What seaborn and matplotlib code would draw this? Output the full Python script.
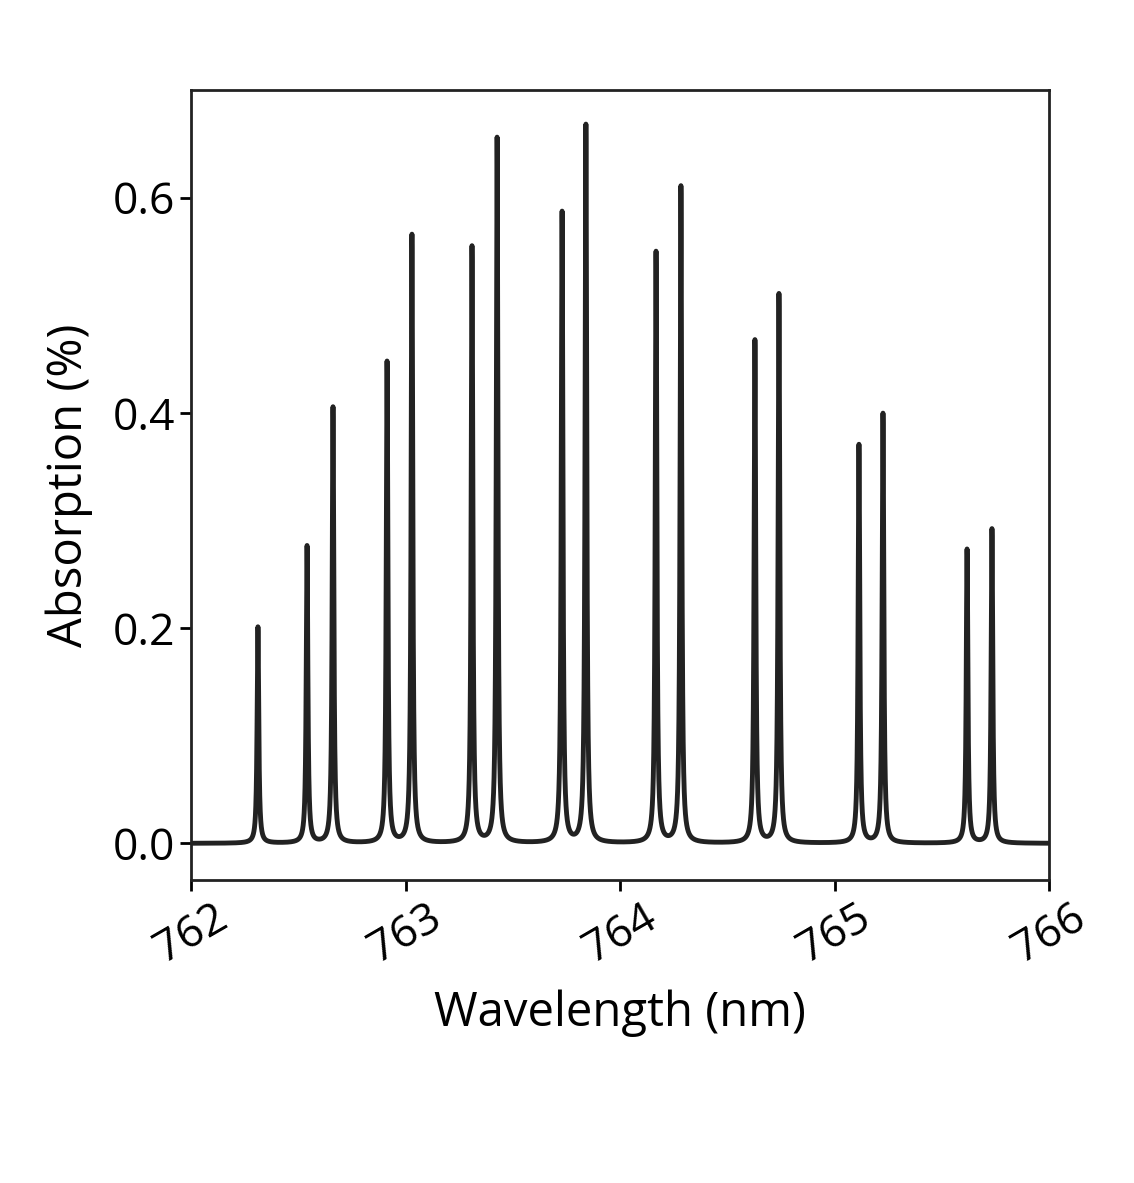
import numpy as np
import pandas as pd
import matplotlib
matplotlib.use("Agg")
import matplotlib.pyplot as plt
import seaborn as sns

# Peak centres (nm) and peak heights (%)
peak_centers = [762.312, 762.541, 762.662, 762.914, 763.030, 763.310, 763.427,
                763.730, 763.841, 764.168, 764.284, 764.629, 764.741, 765.114,
                765.226, 765.618, 765.734]
peak_heights = [0.201, 0.276, 0.405, 0.447, 0.565, 0.554, 0.655,
                0.586, 0.667, 0.549, 0.610, 0.467, 0.510, 0.370,
                0.399, 0.273, 0.292]
x_ticks = [762, 763, 764, 765, 766]
y_ticks = [0.0, 0.2, 0.4, 0.6]

# Lorentzian line shape for each peak
hwhm = 0.0045
wl = np.linspace(762, 766, 40001)
absorb = np.zeros_like(wl)
for c, h in zip(peak_centers, peak_heights):
    absorb += h * hwhm**2 / ((wl - c) ** 2 + hwhm**2)
df = pd.DataFrame({"wavelength": wl, "absorption": absorb})

plt.rcParams["font.family"] = "Open Sans"
fig = plt.figure(figsize=(11.34, 11.83), dpi=100)
ax = fig.add_axes([191 / 1134, 1 - 880 / 1183, 858 / 1134, 790 / 1183])
sns.lineplot(data=df, x="wavelength", y="absorption", ax=ax,
             color="#222222", linewidth=3.5)
ax.set_xlim(762, 766)
ax.set_ylim(-0.034, 0.7)
ax.set_xticks(x_ticks)
ax.set_yticks(y_ticks)
ax.set_yticklabels([f"{v:.1f}" for v in y_ticks])
ax.tick_params(labelsize=32, width=2, length=8)
plt.setp(ax.get_xticklabels(), rotation=30)
for s in ax.spines.values():
    s.set_linewidth(2)
    s.set_color("#222222")
ax.set_xlabel("Wavelength (nm)", fontsize=34, labelpad=12)
ax.set_ylabel("Absorption (%)", fontsize=34, labelpad=14)
fig.savefig("out.png", dpi=100)
